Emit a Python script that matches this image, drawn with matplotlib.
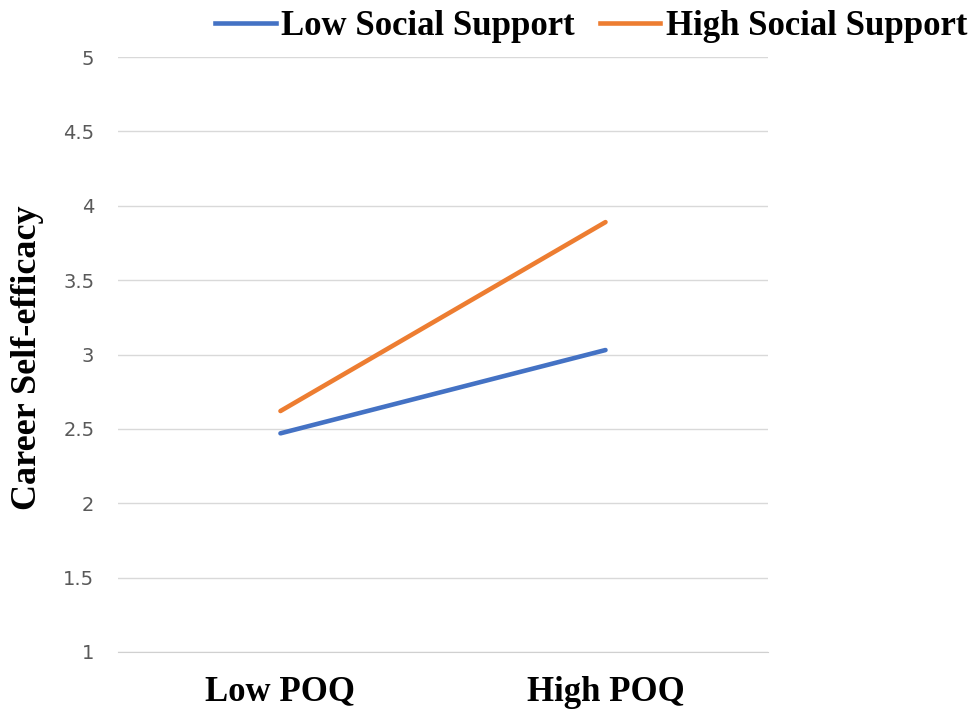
import matplotlib.pyplot as plt
from matplotlib.lines import Line2D

# valores
categorias = ['Low POQ', 'High POQ']
low_support = [2.47, 3.03]
high_support = [2.62, 3.89]
y_ticks = [1, 1.5, 2, 2.5, 3, 3.5, 4, 4.5, 5]
y_tick_labels = ['1', '1.5', '2', '2.5', '3', '3.5', '4', '4.5', '5']

serif = ['Liberation Serif', 'DejaVu Serif']

fig = plt.figure(figsize=(9.74, 7.09), dpi=100)
ax = fig.add_axes([0.1211, 0.0804, 0.6674, 0.8392])

x = range(len(categorias))
ax.plot(x, low_support, color='#4472C4', linewidth=3.3, solid_capstyle='round',
        label='Low Social Support', zorder=3)
ax.plot(x, high_support, color='#ED7D31', linewidth=3.3, solid_capstyle='round',
        label='High Social Support', zorder=3)

ax.set_xlim(-0.5, 1.5)
ax.set_ylim(1, 5)
ax.set_yticks(y_ticks)
ax.set_yticklabels(y_tick_labels)
ax.set_xticks(list(x))
ax.set_xticklabels(categorias, fontfamily=serif, fontweight='bold', fontsize=25)

ax.grid(axis='y', color='#D9D9D9', linewidth=1)
ax.set_axisbelow(True)
for s in ['top', 'right', 'left']:
    ax.spines[s].set_visible(False)
ax.spines['bottom'].set_color('#D0D0D0')
ax.tick_params(axis='y', length=0, pad=17, labelsize=14, labelcolor='#595959')
ax.tick_params(axis='x', length=0, pad=17)

ax.set_ylabel('Career Self-efficacy', fontfamily=serif, fontweight='bold',
              fontsize=26)
ax.yaxis.set_label_coords(-0.113, 0.495)

handles = [Line2D([], [], color='#4472C4', linewidth=3.3),
           Line2D([], [], color='#ED7D31', linewidth=3.3)]
fig.legend(handles, ['Low Social Support', 'High Social Support'],
           loc='center left', bbox_to_anchor=(0.2207, 0.962), ncol=2,
           frameon=False, borderpad=0, borderaxespad=0,
           handlelength=1.75, handletextpad=0.15, columnspacing=0.72,
           prop={'family': serif, 'weight': 'bold', 'size': 25})

fig.savefig('out.png', dpi=100, facecolor='white')
